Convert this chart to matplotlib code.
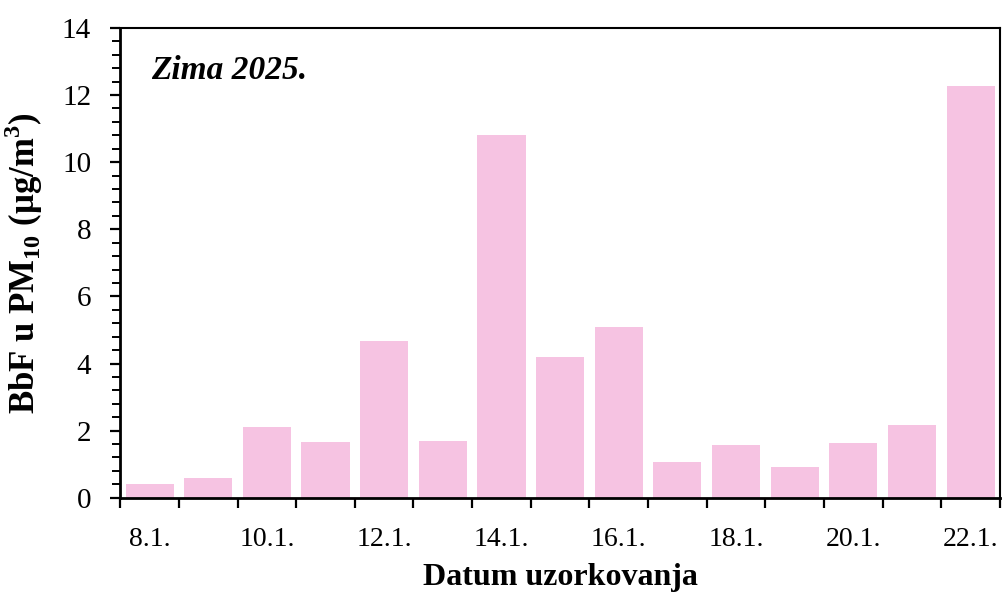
import numpy as np
import matplotlib
matplotlib.use('Agg')
import matplotlib.pyplot as plt
from matplotlib.ticker import MultipleLocator

# sampling dates (January 2025)
dates = ['8.1.', '9.1.', '10.1.', '11.1.', '12.1.', '13.1.', '14.1.', '15.1.',
         '16.1.', '17.1.', '18.1.', '19.1.', '20.1.', '21.1.', '22.1.']
bbf = [0.40, 0.60, 2.12, 1.65, 4.66, 1.68, 10.80, 4.20,
       5.10, 1.08, 1.56, 0.93, 1.63, 2.18, 12.27]

plt.rcParams['font.family'] = ['Liberation Serif', 'DejaVu Serif']
plt.rcParams['mathtext.fontset'] = 'custom'
plt.rcParams['mathtext.rm'] = 'Liberation Serif'
plt.rcParams['mathtext.bf'] = 'Liberation Serif:bold'

fig = plt.figure(figsize=(10.02, 5.94), dpi=100)
ax = fig.add_axes([0.12, 0.162, 0.878, 0.791])

x = np.arange(len(dates))
ax.bar(x, bbf, width=0.82, color='#f6c3e2', edgecolor='none', zorder=2)

ax.set_xlim(-0.5, len(dates) - 0.5)
ax.set_ylim(0, 14)

# ticks between the bars, labels on every second date
ax.set_xticks(np.arange(-0.5, len(dates), 1.0))
ax.set_xticklabels([])
ax.set_xticks(x[::2], minor=True)
ax.set_xticklabels(dates[::2], minor=True, fontsize=20)
ax.tick_params(axis='x', which='major', direction='out', length=7, width=1.6)
ax.tick_params(axis='x', which='minor', length=0, pad=21)

ax.yaxis.set_major_locator(MultipleLocator(2))
ax.yaxis.set_minor_locator(MultipleLocator(0.4))
ax.tick_params(axis='y', which='major', direction='out', length=7, width=1.6, labelsize=21, pad=14)
ax.tick_params(axis='y', which='minor', direction='out', length=6, width=1.4)

for side in ['left', 'bottom']:
    ax.spines[side].set_linewidth(2)
for side in ['top', 'right']:
    ax.spines[side].set_linewidth(1.5)

ax.set_xlabel('Datum uzorkovanja', fontsize=23, fontweight='bold', labelpad=8)
ax.set_ylabel(r'BbF u PM$_{\mathbf{10}}$ ($\mathbf{\mu}$g/m$^{\mathbf{3}}$)',
              fontsize=25, fontweight='bold')
ax.yaxis.set_label_coords(-0.085, 0.5)

ax.text(0.035, 0.91, 'Zima 2025.', transform=ax.transAxes, fontsize=24,
        fontweight='bold', fontstyle='italic', va='center', ha='left')

fig.savefig('out.png', dpi=100)
